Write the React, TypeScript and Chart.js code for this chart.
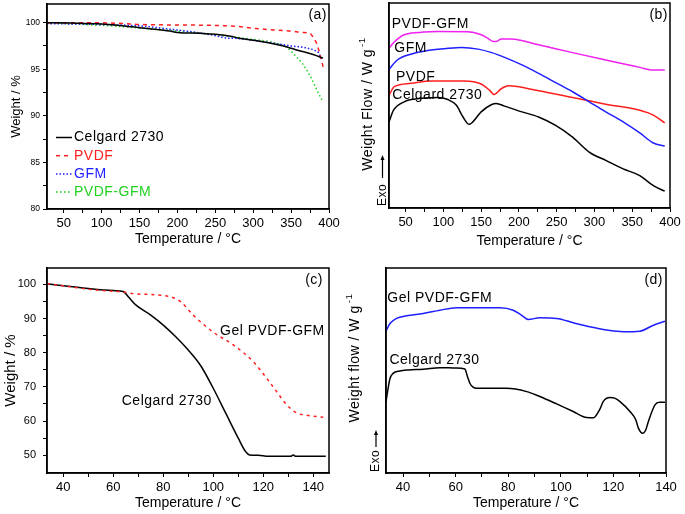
import React, { useEffect, useRef } from "react";
import { Chart, registerables } from "chart.js";

Chart.register(...registerables);

const FONT = '"Liberation Sans", Arial, Helvetica, sans-serif';
const BLACK = "#000000";
const RED = "#ff1e1e";
const BLUE = "#1e1eff";
const GREEN = "#22d022";
const MAGENTA = "#f020f0";
const TEMP_TITLE = "Temperature / °C";

// ---------------- Panel (a): TGA ----------------
const aCelgardT = [28, 60, 100, 130, 150, 170, 190, 200, 230, 250, 270, 280, 300, 320, 340, 350, 360, 370, 380, 392];
const aCelgardW = [100, 99.95, 99.85, 99.65, 99.45, 99.3, 99.1, 98.95, 98.85, 98.75, 98.55, 98.35, 98.1, 97.85, 97.5, 97.25, 97.0, 96.8, 96.55, 96.2];
const aPvdfT = [28, 80, 130, 150, 200, 250, 280, 300, 330, 350, 365, 375, 380, 384, 388, 393];
const aPvdfW = [100, 100, 99.9, 99.8, 99.75, 99.7, 99.6, 99.4, 99.2, 99.1, 98.95, 98.85, 98.3, 97.7, 96.6, 95.0];
const aGfmT = [28, 100, 150, 200, 230, 250, 265, 280, 300, 330, 350, 370, 380, 386, 390];
const aGfmW = [99.9, 99.8, 99.65, 99.2, 98.9, 98.6, 98.35, 98.3, 98.1, 97.75, 97.5, 97.3, 97.05, 96.8, 96.1];
const aPgT = [28, 100, 130, 200, 250, 300, 330, 345, 355, 365, 375, 385, 392];
const aPgW = [100, 99.7, 99.55, 99.1, 98.7, 98.2, 97.8, 97.3, 96.5, 95.6, 94.3, 92.6, 91.5];
const aXMajor = [50, 100, 150, 200, 250, 300, 350, 400];
const aXMinor = [75, 125, 175, 225, 275, 325, 375];
const aYMajor = [80, 85, 90, 95, 100];
const aYMinor = [82.5, 87.5, 92.5, 97.5];

// ---------------- Panel (b): DSC ----------------
const bPgT = [28, 35, 48, 74, 92, 132, 150, 160, 166, 170, 177, 190, 226, 271, 315, 360, 378, 393];
const bPgY = [78, 81, 84.5, 85.8, 86.1, 86, 84.5, 82.5, 81.2, 81.2, 82.5, 82.5, 79.6, 75.8, 72.2, 68.6, 67.3, 67.3];
const bGfmT = [28, 39, 57, 79, 106, 124, 146, 164, 181, 204, 226, 248, 271, 293, 315, 338, 360, 378, 393];
const bGfmY = [67.6, 72.2, 75, 76.8, 77.9, 78.3, 77.5, 75.8, 73.5, 69.8, 65.7, 61.3, 56.7, 51.8, 46.9, 42, 36.6, 31.7, 30.2];
const bPvdfT = [28, 35, 57, 83, 128, 150, 161, 167, 177, 186, 226, 271, 315, 360, 378, 393];
const bPvdfY = [55, 59.2, 60.8, 62, 62, 60.5, 57.5, 55.4, 58.3, 59.6, 57.2, 53.9, 50.6, 47.7, 45.3, 41.5];
const bCelT = [28, 34, 48, 61, 92, 106, 117, 126, 134, 139, 150, 164, 170, 181, 204, 226, 248, 271, 293, 315, 338, 360, 378, 393];
const bCelY = [42, 47.7, 51.8, 53.1, 53.9, 52.9, 50.2, 44.4, 40.8, 42, 46.9, 50.5, 51, 49.7, 46.9, 44.4, 40.4, 34.6, 27.3, 23.2, 19.1, 15.8, 10.9, 8.2];

// ---------------- Panel (c): TGA gel ----------------
const cCelT = [33.5, 40, 50, 60, 64, 66, 69, 75, 80, 85, 90, 95, 100, 105, 110, 113, 114.5, 118, 122, 131, 132, 133, 145];
const cCelW = [100.2, 99.6, 98.8, 98.2, 97.9, 96.4, 94.0, 91.0, 88.1, 84.7, 80.8, 76.2, 69.6, 62.3, 55.0, 51.0, 50.1, 50.0, 49.7, 49.7, 50.1, 49.7, 49.7];
const cGelT = [33.5, 40, 50, 60, 64, 68, 78, 84, 87, 92, 100, 108, 116, 121.3, 125.3, 129.3, 133.3, 137.3, 144];
const cGelW = [100.2, 99.6, 98.6, 98.0, 97.8, 97.3, 96.9, 96.1, 94.9, 91.0, 86.0, 82.3, 77.4, 72.6, 68.7, 64.8, 62.4, 61.7, 61.1];
const cXMajor = [40, 60, 80, 100, 120, 140];
const cXMinor = [50, 70, 90, 110, 130];
const cYMajor = [50, 60, 70, 80, 90, 100];
const cYMinor = [55, 65, 75, 85, 95];

// ---------------- Panel (d): DSC gel ----------------
const dGelT = [33.5, 35, 37.5, 41.3, 47.6, 54, 60.3, 76.8, 81.9, 85, 87.6, 92, 98.4, 104.7, 111, 117.4, 123.8, 130.1, 135.2, 139.6];
const dGelY = [69.2, 72.9, 75.4, 76.7, 77.8, 79.4, 80.6, 80.6, 79.4, 77, 74.9, 75.7, 75.4, 73.3, 71.3, 69.7, 68.9, 69.2, 72.1, 74];
const dCelT = [33.5, 34.3, 35, 36.2, 38.7, 42, 47.6, 54, 60, 63.5, 64.5, 65.4, 66.5, 67.9, 79.3, 87, 92, 98.4, 104.7, 109.8, 112.5, 113.6, 115, 116.1, 118.7, 120.5, 122.5, 126.3, 128.5, 129.5, 131.1, 132.3, 133.3, 135.8, 137.5, 139.6];
const dCelY = [34.8, 41.3, 46, 48.6, 49.8, 50.3, 50.6, 51.4, 51.2, 50.7, 47, 43.8, 42, 41.3, 41.3, 39.7, 37.3, 33.7, 30, 27.1, 27.0, 28.4, 31.5, 34.8, 36.8, 36.5, 34.8, 30, 26, 21.9, 19.4, 21, 25.1, 33.2, 34.5, 34.5];
const dXMajor = [40, 60, 80, 100, 120, 140];
const dXMinor = [50, 70, 90, 110, 130];

// ---------------- helpers ----------------
const pts = (xs: number[], ys: number[]) => xs.map((x, i) => ({ x, y: ys[i] }));
const isMajor = (major: number[], v: number) => major.some((m) => Math.abs(m - v) < 1e-6);
const tickList = (major: number[], minor: number[]) => [...major, ...minor].sort((a, b) => a - b);

function xAxis(min: number, max: number, major: number[], minor: number[], height: number, titlePad: number) {
  const all = tickList(major, minor);
  return {
    type: "linear" as const,
    min,
    max,
    afterBuildTicks: (s: any) => {
      s.ticks = all.map((v) => ({ value: v }));
    },
    afterFit: (s: any) => {
      s.height = height;
      s.paddingLeft = 0;
      s.paddingRight = 0;
    },
    grid: { display: true, drawOnChartArea: false, drawTicks: true, tickLength: 4, color: BLACK, tickColor: BLACK, tickWidth: 1 },
    border: { display: true, color: BLACK, width: 1.5 },
    ticks: {
      autoSkip: false,
      maxRotation: 0,
      minRotation: 0,
      padding: 3,
      color: BLACK,
      font: { family: FONT, size: 13 },
      callback: (v: any) => (isMajor(major, v) ? String(v) : ""),
    },
    title: { display: true, text: TEMP_TITLE, color: BLACK, font: { family: FONT, size: 14 }, padding: { top: 0, bottom: titlePad } },
  };
}

function yAxisTicks(min: number, max: number, major: number[], minor: number[], width: number, fontSize: number, pad: number, title: string, titleSize: number, titlePad: number) {
  const all = tickList(major, minor);
  return {
    type: "linear" as const,
    min,
    max,
    afterBuildTicks: (s: any) => {
      s.ticks = all.map((v) => ({ value: v }));
    },
    afterFit: (s: any) => {
      s.width = width;
      s.paddingTop = 0;
      s.paddingBottom = 0;
    },
    grid: { display: true, drawOnChartArea: false, drawTicks: true, tickLength: 4, color: BLACK, tickColor: BLACK, tickWidth: 1 },
    border: { display: true, color: BLACK, width: 1.5 },
    ticks: {
      autoSkip: false,
      padding: pad,
      color: BLACK,
      font: { family: FONT, size: fontSize },
      callback: (v: any) => (isMajor(major, v) ? String(v) : ""),
    },
    title: { display: true, text: title, color: BLACK, font: { family: FONT, size: titleSize }, padding: { top: titlePad, bottom: 0 } },
  };
}

function yAxisBare(min: number, max: number, width: number) {
  return {
    type: "linear" as const,
    min,
    max,
    afterFit: (s: any) => {
      s.width = width;
      s.paddingTop = 0;
      s.paddingBottom = 0;
    },
    grid: { display: false },
    border: { display: true, color: BLACK, width: 1.5 },
    ticks: { display: false },
  };
}

function text(ctx: CanvasRenderingContext2D, s: string, x: number, y: number, size: number, color = BLACK, align: CanvasTextAlign = "left") {
  ctx.font = `${size}px ${FONT}`;
  ctx.fillStyle = color;
  ctx.textAlign = align;
  ctx.textBaseline = "middle";
  (ctx as any).letterSpacing = "0.5px";
  ctx.fillText(s, x, y);
  (ctx as any).letterSpacing = "0px";
}

function frame(chart: any) {
  const { ctx, chartArea: a } = chart;
  ctx.strokeStyle = BLACK;
  ctx.lineWidth = 1.5;
  ctx.setLineDash([]);
  ctx.strokeRect(a.left, a.top, a.right - a.left, a.bottom - a.top);
}

function rotTitle(ctx: CanvasRenderingContext2D, cx: number, cy: number, main: string, sup: string, size: number) {
  ctx.save();
  ctx.translate(cx, cy);
  ctx.rotate(-Math.PI / 2);
  (ctx as any).letterSpacing = "0.5px";
  ctx.font = `${size}px ${FONT}`;
  const w1 = ctx.measureText(main).width;
  ctx.font = `${size * 0.7}px ${FONT}`;
  const w2 = ctx.measureText(sup).width;
  const x0 = -(w1 + w2 + 2) / 2;
  ctx.fillStyle = BLACK;
  ctx.textBaseline = "middle";
  ctx.textAlign = "left";
  ctx.font = `${size}px ${FONT}`;
  ctx.fillText(main, x0, 0);
  ctx.font = `${size * 0.7}px ${FONT}`;
  ctx.fillText(sup, x0 + w1 + 2, -size * 0.4);
  (ctx as any).letterSpacing = "0px";
  ctx.restore();
}

function exo(ctx: CanvasRenderingContext2D, x: number, arrowTop: number, arrowBot: number, textC: number) {
  ctx.strokeStyle = BLACK;
  ctx.fillStyle = BLACK;
  ctx.lineWidth = 1.2;
  ctx.setLineDash([]);
  ctx.beginPath();
  ctx.moveTo(x, arrowBot);
  ctx.lineTo(x, arrowTop + 3);
  ctx.stroke();
  ctx.beginPath();
  ctx.moveTo(x, arrowTop);
  ctx.lineTo(x - 2, arrowTop + 5);
  ctx.lineTo(x + 2, arrowTop + 5);
  ctx.closePath();
  ctx.fill();
  ctx.save();
  ctx.translate(x, textC);
  ctx.rotate(-Math.PI / 2);
  text(ctx, "Exo", 0, 0, 12, BLACK, "center");
  ctx.restore();
}

function labelAt(chart: any, s: string, xv: number, yv: number, size = 14) {
  const x = chart.scales.x.getPixelForValue(xv);
  const y = chart.scales.y.getPixelForValue(yv);
  text(chart.ctx, s, x, y, size);
}

const deco = (draw: (chart: any, ctx: CanvasRenderingContext2D) => void) => ({
  id: "deco",
  afterDraw(chart: any) {
    const ctx = chart.ctx;
    ctx.save();
    draw(chart, ctx);
    ctx.restore();
  },
});

const baseOptions = (padTop: number, padRight: number) => ({
  animation: false as const,
  responsive: false,
  devicePixelRatio: 1,
  layout: { padding: { top: padTop, right: padRight, left: 0, bottom: 0 } },
  elements: { point: { radius: 0 }, line: { cubicInterpolationMode: "monotone" as const } },
  plugins: { legend: { display: false }, tooltip: { enabled: false } },
});

function configA(): any {
  return {
    type: "line",
    data: {
      datasets: [
        { label: "Celgard 2730", data: pts(aCelgardT, aCelgardW), borderColor: BLACK, borderWidth: 1.5 },
        { label: "PVDF", data: pts(aPvdfT, aPvdfW), borderColor: RED, borderWidth: 1.5, borderDash: [4, 4] },
        { label: "GFM", data: pts(aGfmT, aGfmW), borderColor: BLUE, borderWidth: 1.5, borderDash: [1.5, 2] },
        { label: "PVDF-GFM", data: pts(aPgT, aPgW), borderColor: GREEN, borderWidth: 1.5, borderDash: [1.5, 2.5] },
      ],
    },
    options: {
      ...baseOptions(4, 16),
      scales: {
        x: xAxis(28, 400, aXMajor, aXMinor, 46, 7.6),
        y: yAxisTicks(80, 102, aYMajor, aYMinor, 47, 8.5, 3, "Weight / %", 13, 8.6),
      },
    },
    plugins: [
      deco((chart, ctx) => {
        frame(chart);
        const a = chart.chartArea;
        text(ctx, "(a)", a.right - 2, a.top + 11, 14, BLACK, "right");
        chart.data.datasets.forEach((ds: any, i: number) => {
          const y = a.top + 133.5 + i * 18.2;
          ctx.strokeStyle = ds.borderColor;
          ctx.lineWidth = 1.5;
          ctx.setLineDash(ds.borderDash || []);
          ctx.beginPath();
          ctx.moveTo(a.left + 9, y);
          ctx.lineTo(a.left + 25, y);
          ctx.stroke();
          ctx.setLineDash([]);
          text(ctx, ds.label, a.left + 27, y, 14, ds.borderColor);
        });
      }),
    ],
  };
}

function configB(): any {
  return {
    type: "line",
    data: {
      datasets: [
        { label: "PVDF-GFM", data: pts(bPgT, bPgY), borderColor: MAGENTA, borderWidth: 1.5 },
        { label: "GFM", data: pts(bGfmT, bGfmY), borderColor: BLUE, borderWidth: 1.5 },
        { label: "PVDF", data: pts(bPvdfT, bPvdfY), borderColor: RED, borderWidth: 1.5 },
        { label: "Celgard 2730", data: pts(bCelT, bCelY), borderColor: BLACK, borderWidth: 1.5 },
      ],
    },
    options: {
      ...baseOptions(3, 15),
      scales: {
        x: xAxis(28, 400, aXMajor, aXMinor, 47, 5),
        y: yAxisBare(0, 100, 49),
      },
    },
    plugins: [
      deco((chart, ctx) => {
        frame(chart);
        const a = chart.chartArea;
        text(ctx, "(b)", a.right - 2, a.top + 12, 14, BLACK, "right");
        labelAt(chart, "PVDF-GFM", 31.6, 89.8);
        labelAt(chart, "GFM", 35, 78.0);
        labelAt(chart, "PVDF", 37.3, 64.0);
        labelAt(chart, "Celgard 2730", 32.4, 55.1);
        rotTitle(ctx, 28, 104, "Weight Flow / W g", "-1", 14);
        exo(ctx, a.left - 6.5, a.bottom - 53, a.bottom - 30, a.bottom - 13);
      }),
    ],
  };
}

function configC(): any {
  return {
    type: "line",
    data: {
      datasets: [
        { label: "Gel PVDF-GFM", data: pts(cGelT, cGelW), borderColor: RED, borderWidth: 1.5, borderDash: [3, 4] },
        { label: "Celgard 2730", data: pts(cCelT, cCelW), borderColor: BLACK, borderWidth: 1.5 },
      ],
    },
    options: {
      ...baseOptions(13, 16),
      scales: {
        x: xAxis(33.5, 146.3, cXMajor, cXMinor, 41, 2),
        y: yAxisTicks(44.8, 104.8, cYMajor, cYMinor, 47, 11, 7, "Weight / %", 15, 1.8),
      },
    },
    plugins: [
      deco((chart, ctx) => {
        frame(chart);
        const a = chart.chartArea;
        text(ctx, "(c)", a.right - 6, a.top + 12, 14, BLACK, "right");
        labelAt(chart, "Gel PVDF-GFM", 102.7, 86.3);
        labelAt(chart, "Celgard 2730", 63.4, 65.7);
      }),
    ],
  };
}

function configD(): any {
  return {
    type: "line",
    data: {
      datasets: [
        { label: "Gel PVDF-GFM", data: pts(dGelT, dGelY), borderColor: BLUE, borderWidth: 1.5 },
        { label: "Celgard 2730", data: pts(dCelT, dCelY), borderColor: BLACK, borderWidth: 1.5 },
      ],
    },
    options: {
      ...baseOptions(13, 19),
      scales: {
        x: xAxis(33.5, 140, dXMajor, dXMinor, 41, 2.3),
        y: yAxisBare(0, 100, 46),
      },
    },
    plugins: [
      deco((chart, ctx) => {
        frame(chart);
        const a = chart.chartArea;
        text(ctx, "(d)", a.right - 3, a.top + 12, 14, BLACK, "right");
        labelAt(chart, "Gel PVDF-GFM", 34, 85.2);
        labelAt(chart, "Celgard 2730", 34.8, 55.0);
        rotTitle(ctx, 15, 103, "Weight flow / W g", "-1", 14);
        exo(ctx, a.left - 10, a.bottom - 43, a.bottom - 26, a.bottom - 12);
      }),
    ],
  };
}

export default function App() {
  const refA = useRef<HTMLCanvasElement>(null);
  const refB = useRef<HTMLCanvasElement>(null);
  const refC = useRef<HTMLCanvasElement>(null);
  const refD = useRef<HTMLCanvasElement>(null);

  useEffect(() => {
    const charts = [
      new Chart(refA.current!, configA()),
      new Chart(refB.current!, configB()),
      new Chart(refC.current!, configC()),
      new Chart(refD.current!, configD()),
    ];
    return () => charts.forEach((c) => c.destroy());
  }, []);

  return (
    <div style={{ position: "absolute", left: 0, top: 0, width: 685, height: 514, background: "#ffffff" }}>
      <canvas ref={refA} width={345} height={255} style={{ position: "absolute", left: 0, top: 0 }} />
      <canvas ref={refB} width={345} height={255} style={{ position: "absolute", left: 340, top: 0 }} />
      <canvas ref={refC} width={345} height={259} style={{ position: "absolute", left: 0, top: 255 }} />
      <canvas ref={refD} width={345} height={259} style={{ position: "absolute", left: 340, top: 255 }} />
    </div>
  );
}
